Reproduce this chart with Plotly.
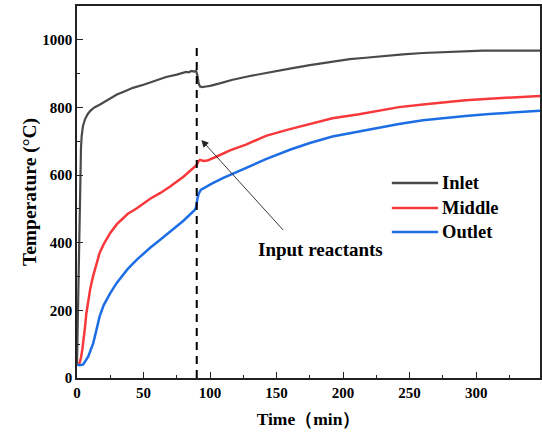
import plotly.graph_objects as go

# ---- data ----
t_inlet = [0, 0.5, 1, 1.5, 2, 2.5, 3, 3.5, 4.5, 6, 8, 10, 13, 17, 21, 25, 30, 36, 42, 50, 58, 67, 75,
           80, 82, 84, 85, 86, 88, 89.5, 90.5, 91.5, 92.5, 94, 97, 100, 108, 117, 130, 145, 160, 175,
           190, 205, 217, 230, 245, 260, 275, 290, 305, 320, 335, 348]
v_inlet = [40, 150, 300, 450, 560, 620, 680, 715, 745, 765, 780, 790, 800, 808, 817, 828, 838, 848,
           858, 867, 878, 890, 897, 903, 905, 904, 907, 908, 906, 908, 895, 870, 862, 860, 862, 864,
           872, 882, 893, 905, 915, 925, 935, 943, 947, 952, 957, 961, 964, 967, 968, 968, 968, 968]

t_middle = [0, 1, 2, 3, 4, 5, 6, 7, 8.5, 10, 12, 14, 17, 20, 25, 30, 38, 45, 55, 63, 70, 80, 88.5,
            90, 91, 92.5, 95, 98, 105, 115, 127, 142, 160, 175, 192, 212, 230, 242, 260, 275, 292,
            310, 330, 348]
v_middle = [40, 40, 45, 60, 84, 110, 150, 190, 232, 265, 300, 330, 370, 395, 429, 455, 485, 502, 530,
            548, 566, 595, 625, 630, 640, 645, 642, 643, 655, 673, 690, 716, 736, 751, 768, 780, 793,
            801, 809, 815, 821, 826, 830, 834]

t_outlet = [0, 2, 4.7, 6.5, 8.5, 10, 12.2, 14.5, 17, 20, 25, 30, 38, 45, 55, 63, 70, 80, 88.5, 89.5,
            90.5, 91.5, 93, 96, 102, 110, 127, 142, 160, 175, 192, 212, 230, 242, 260, 275, 292, 310,
            330, 348]
v_outlet = [40, 38, 40, 50, 64, 80, 103, 140, 182, 215, 251, 282, 322, 350, 385, 410, 433, 465, 497,
            505, 530, 545, 556, 563, 576, 592, 621, 647, 675, 695, 714, 729, 744, 751, 762, 769, 775,
            781, 786, 790]

series_names = ["Inlet", "Middle", "Outlet"]
series_colors = ["#4a4a4a", "#f7393c", "#1d6ee4"]

reactant_time = [90, 90]
reactant_span = [0, 990]
arrow_tip = (93.5, 704)
arrow_tail = (156, 433)
label_pos = (183, 380)
label_text = "Input reactants"

x_range = [0, 348]
y_range = [0, 1100]

FONT = "Times New Roman, Liberation Serif, serif"

fig = go.Figure()
for name, t, v, c, w in zip(series_names, [t_inlet, t_middle, t_outlet],
                            [v_inlet, v_middle, v_outlet], series_colors, [2.2, 2.5, 2.5]):
    fig.add_trace(go.Scatter(x=t, y=v, mode="lines", name=name, showlegend=False,
                             line=dict(color=c, width=w)))

fig.add_trace(go.Scatter(x=reactant_time, y=reactant_span, mode="lines", showlegend=False,
                         line=dict(color="black", width=2, dash="8px,6px")))

fig.add_annotation(x=arrow_tip[0], y=arrow_tip[1], ax=arrow_tail[0], ay=arrow_tail[1],
                   axref="x", ayref="y", xref="x", yref="y", text="", showarrow=True,
                   arrowhead=2, arrowsize=1.6, arrowwidth=0.9, arrowcolor="#222")
fig.add_annotation(x=label_pos[0], y=label_pos[1], xref="x", yref="y", text=label_text,
                   showarrow=False, font=dict(family=FONT, size=19, color="black", weight="bold"))

# legend drawn as line samples + text (paper coordinates)
legend_x0, legend_x1, legend_tx = 0.680, 0.780, 0.785
legend_ys = [0.524, 0.457, 0.3925]
for name, c, ly in zip(series_names, series_colors, legend_ys):
    fig.add_shape(type="line", xref="paper", yref="paper", x0=legend_x0, x1=legend_x1,
                  y0=ly, y1=ly, line=dict(color=c, width=2.5))
    fig.add_annotation(x=legend_tx, y=ly, xref="paper", yref="paper", text=name,
                       showarrow=False, xanchor="left", yanchor="middle",
                       font=dict(family=FONT, size=18.5, color="black", weight="bold"))

axis_common = dict(showline=True, linecolor="#222", linewidth=1.5, mirror=True, ticks="inside",
                   ticklen=6, tickwidth=1.2, tickcolor="#222", showgrid=False, zeroline=False,
                   tickfont=dict(family=FONT, size=15, color="black", weight="bold"))

fig.update_xaxes(range=x_range, dtick=50, tick0=0,
                 minor=dict(ticks="inside", ticklen=3, dtick=25, tickcolor="#222"),
                 title=dict(text="Time（min）", standoff=13,
                            font=dict(family=FONT, size=17.5, color="black", weight="bold")),
                 **axis_common)
fig.update_yaxes(range=y_range, dtick=200, tick0=0,
                 minor=dict(ticks="inside", ticklen=3, dtick=100, tickcolor="#222"),
                 title=dict(text="Temperature (°C)", standoff=0,
                            font=dict(family=FONT, size=19.5, color="black", weight="bold")),
                 **axis_common)

fig.update_layout(
    width=542, height=432,
    margin=dict(l=77, r=2, t=6, b=54, autoexpand=False),
    plot_bgcolor="white", paper_bgcolor="white",
    showlegend=False,
)

fig.write_html("out.html", config={"displayModeBar": False},
               post_script="document.body.style.margin='0';document.body.style.padding='0';")
